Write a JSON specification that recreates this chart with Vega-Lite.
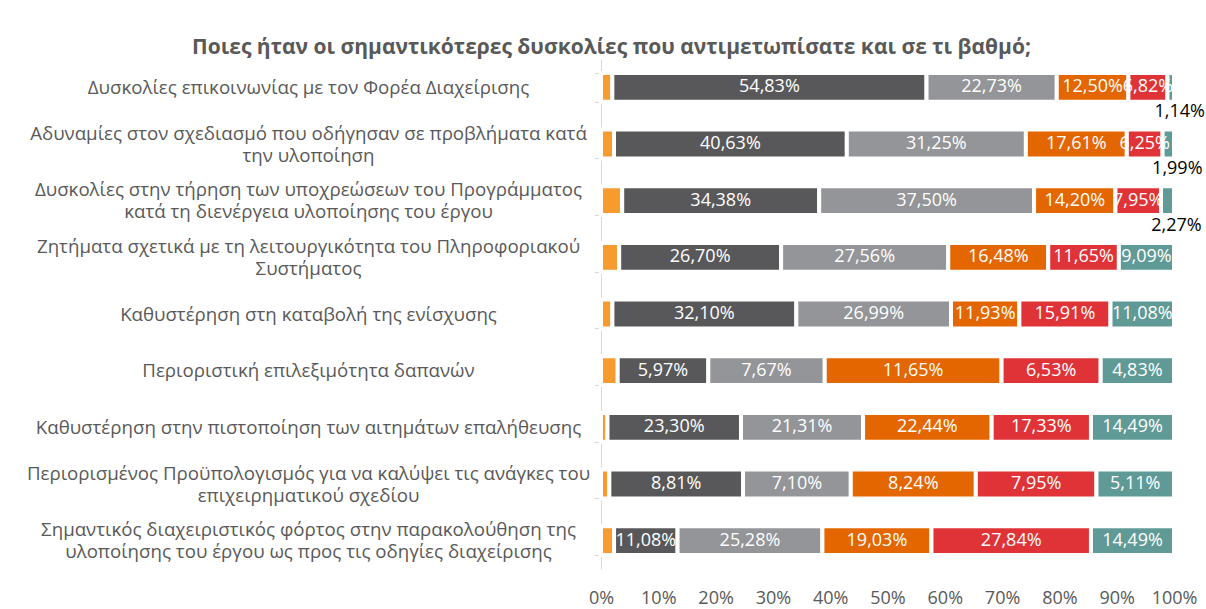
{
  "$schema": "https://vega.github.io/schema/vega-lite/v6.json",
  "autosize": "none",
  "width": 573,
  "height": 510,
  "padding": {"left": 601, "top": 59, "right": 32, "bottom": 40},
  "background": "white",
  "title": {
    "text": "Ποιες ήταν οι σημαντικότερες δυσκολίες που αντιμετωπίσατε και σε τι βαθμό;",
    "anchor": "middle",
    "frame": "group",
    "dx": -276,
    "dy": 14,
    "offset": 6,
    "font": "Open Sans",
    "fontSize": 21,
    "fontWeight": "bold",
    "color": "#595959"
  },
  "data": {
    "values": [
      {"item": "Δυσκολίες επικοινωνίας με τον Φορέα Διαχείρισης", "level": 0, "value": 0.0198},
      {"item": "Δυσκολίες επικοινωνίας με τον Φορέα Διαχείρισης", "level": 1, "value": 0.5483},
      {"item": "Δυσκολίες επικοινωνίας με τον Φορέα Διαχείρισης", "level": 2, "value": 0.2273},
      {"item": "Δυσκολίες επικοινωνίας με τον Φορέα Διαχείρισης", "level": 3, "value": 0.1250},
      {"item": "Δυσκολίες επικοινωνίας με τον Φορέα Διαχείρισης", "level": 4, "value": 0.0682},
      {"item": "Δυσκολίες επικοινωνίας με τον Φορέα Διαχείρισης", "level": 5, "value": 0.0114},

      {"item": "Αδυναμίες στον σχεδιασμό που οδήγησαν σε προβλήματα κατά\nτην υλοποίηση", "level": 0, "value": 0.0227},
      {"item": "Αδυναμίες στον σχεδιασμό που οδήγησαν σε προβλήματα κατά\nτην υλοποίηση", "level": 1, "value": 0.4063},
      {"item": "Αδυναμίες στον σχεδιασμό που οδήγησαν σε προβλήματα κατά\nτην υλοποίηση", "level": 2, "value": 0.3125},
      {"item": "Αδυναμίες στον σχεδιασμό που οδήγησαν σε προβλήματα κατά\nτην υλοποίηση", "level": 3, "value": 0.1761},
      {"item": "Αδυναμίες στον σχεδιασμό που οδήγησαν σε προβλήματα κατά\nτην υλοποίηση", "level": 4, "value": 0.0625},
      {"item": "Αδυναμίες στον σχεδιασμό που οδήγησαν σε προβλήματα κατά\nτην υλοποίηση", "level": 5, "value": 0.0199},

      {"item": "Δυσκολίες στην τήρηση των υποχρεώσεων του Προγράμματος\nκατά τη διενέργεια υλοποίησης του έργου", "level": 0, "value": 0.0370},
      {"item": "Δυσκολίες στην τήρηση των υποχρεώσεων του Προγράμματος\nκατά τη διενέργεια υλοποίησης του έργου", "level": 1, "value": 0.3438},
      {"item": "Δυσκολίες στην τήρηση των υποχρεώσεων του Προγράμματος\nκατά τη διενέργεια υλοποίησης του έργου", "level": 2, "value": 0.3750},
      {"item": "Δυσκολίες στην τήρηση των υποχρεώσεων του Προγράμματος\nκατά τη διενέργεια υλοποίησης του έργου", "level": 3, "value": 0.1420},
      {"item": "Δυσκολίες στην τήρηση των υποχρεώσεων του Προγράμματος\nκατά τη διενέργεια υλοποίησης του έργου", "level": 4, "value": 0.0795},
      {"item": "Δυσκολίες στην τήρηση των υποχρεώσεων του Προγράμματος\nκατά τη διενέργεια υλοποίησης του έργου", "level": 5, "value": 0.0227},

      {"item": "Ζητήματα σχετικά με τη λειτουργικότητα του Πληροφοριακού\nΣυστήματος", "level": 0, "value": 0.0300},
      {"item": "Ζητήματα σχετικά με τη λειτουργικότητα του Πληροφοριακού\nΣυστήματος", "level": 1, "value": 0.2670},
      {"item": "Ζητήματα σχετικά με τη λειτουργικότητα του Πληροφοριακού\nΣυστήματος", "level": 2, "value": 0.2756},
      {"item": "Ζητήματα σχετικά με τη λειτουργικότητα του Πληροφοριακού\nΣυστήματος", "level": 3, "value": 0.1648},
      {"item": "Ζητήματα σχετικά με τη λειτουργικότητα του Πληροφοριακού\nΣυστήματος", "level": 4, "value": 0.1165},
      {"item": "Ζητήματα σχετικά με τη λειτουργικότητα του Πληροφοριακού\nΣυστήματος", "level": 5, "value": 0.0909},

      {"item": "Καθυστέρηση στη καταβολή της ενίσχυσης", "level": 0, "value": 0.0199},
      {"item": "Καθυστέρηση στη καταβολή της ενίσχυσης", "level": 1, "value": 0.3210},
      {"item": "Καθυστέρηση στη καταβολή της ενίσχυσης", "level": 2, "value": 0.2699},
      {"item": "Καθυστέρηση στη καταβολή της ενίσχυσης", "level": 3, "value": 0.1193},
      {"item": "Καθυστέρηση στη καταβολή της ενίσχυσης", "level": 4, "value": 0.1591},
      {"item": "Καθυστέρηση στη καταβολή της ενίσχυσης", "level": 5, "value": 0.1108},

      {"item": "Περιοριστική επιλεξιμότητα δαπανών", "level": 0, "value": 0.0110},
      {"item": "Περιοριστική επιλεξιμότητα δαπανών", "level": 1, "value": 0.0597},
      {"item": "Περιοριστική επιλεξιμότητα δαπανών", "level": 2, "value": 0.0767},
      {"item": "Περιοριστική επιλεξιμότητα δαπανών", "level": 3, "value": 0.1165},
      {"item": "Περιοριστική επιλεξιμότητα δαπανών", "level": 4, "value": 0.0653},
      {"item": "Περιοριστική επιλεξιμότητα δαπανών", "level": 5, "value": 0.0483},

      {"item": "Καθυστέρηση στην πιστοποίηση των αιτημάτων επαλήθευσης", "level": 0, "value": 0.0113},
      {"item": "Καθυστέρηση στην πιστοποίηση των αιτημάτων επαλήθευσης", "level": 1, "value": 0.2330},
      {"item": "Καθυστέρηση στην πιστοποίηση των αιτημάτων επαλήθευσης", "level": 2, "value": 0.2131},
      {"item": "Καθυστέρηση στην πιστοποίηση των αιτημάτων επαλήθευσης", "level": 3, "value": 0.2244},
      {"item": "Καθυστέρηση στην πιστοποίηση των αιτημάτων επαλήθευσης", "level": 4, "value": 0.1733},
      {"item": "Καθυστέρηση στην πιστοποίηση των αιτημάτων επαλήθευσης", "level": 5, "value": 0.1449},

      {"item": "Περιορισμένος Προϋπολογισμός για να καλύψει τις ανάγκες του\nεπιχειρηματικού σχεδίου", "level": 0, "value": 0.0055},
      {"item": "Περιορισμένος Προϋπολογισμός για να καλύψει τις ανάγκες του\nεπιχειρηματικού σχεδίου", "level": 1, "value": 0.0881},
      {"item": "Περιορισμένος Προϋπολογισμός για να καλύψει τις ανάγκες του\nεπιχειρηματικού σχεδίου", "level": 2, "value": 0.0710},
      {"item": "Περιορισμένος Προϋπολογισμός για να καλύψει τις ανάγκες του\nεπιχειρηματικού σχεδίου", "level": 3, "value": 0.0824},
      {"item": "Περιορισμένος Προϋπολογισμός για να καλύψει τις ανάγκες του\nεπιχειρηματικού σχεδίου", "level": 4, "value": 0.0795},
      {"item": "Περιορισμένος Προϋπολογισμός για να καλύψει τις ανάγκες του\nεπιχειρηματικού σχεδίου", "level": 5, "value": 0.0511},

      {"item": "Σημαντικός διαχειριστικός φόρτος στην παρακολούθηση της\nυλοποίησης του έργου ως προς τις οδηγίες διαχείρισης", "level": 0, "value": 0.0228},
      {"item": "Σημαντικός διαχειριστικός φόρτος στην παρακολούθηση της\nυλοποίησης του έργου ως προς τις οδηγίες διαχείρισης", "level": 1, "value": 0.1108},
      {"item": "Σημαντικός διαχειριστικός φόρτος στην παρακολούθηση της\nυλοποίησης του έργου ως προς τις οδηγίες διαχείρισης", "level": 2, "value": 0.2528},
      {"item": "Σημαντικός διαχειριστικός φόρτος στην παρακολούθηση της\nυλοποίησης του έργου ως προς τις οδηγίες διαχείρισης", "level": 3, "value": 0.1903},
      {"item": "Σημαντικός διαχειριστικός φόρτος στην παρακολούθηση της\nυλοποίησης του έργου ως προς τις οδηγίες διαχείρισης", "level": 4, "value": 0.2784},
      {"item": "Σημαντικός διαχειριστικός φόρτος στην παρακολούθηση της\nυλοποίησης του έργου ως προς τις οδηγίες διαχείρισης", "level": 5, "value": 0.1449}
    ]
  },
  "encoding": {
    "y": {
      "field": "item",
      "type": "nominal",
      "sort": null,
      "scale": {"paddingInner": 0.49, "paddingOuter": 0.245},
      "axis": {
        "title": null,
        "tickBand": "extent",
        "domainColor": "#D9D9D9",
        "tickColor": "#D9D9D9",
        "tickSize": 7,
        "labelPadding": 286,
        "labelLimit": 0,
        "labelFont": "Open Sans",
        "labelFontSize": 18.7,
        "labelColor": "#595959",
        "labelAlign": "center",
        "labelBaseline": "middle",
        "labelLineHeight": 11,
        "labelOffset": -22,
        "labelExpr": "indexof(datum.label, '\\n') < 0 ? ['\u200b', '\u200b', pad('', indexof(datum.label, 'Δυσκολίες επικοινωνίας') == 0 ? 13 : indexof(datum.label, 'Καθυστέρηση στη καταβολή') == 0 ? 20 : indexof(datum.label, 'Περιοριστική') == 0 ? 25 : indexof(datum.label, 'Καθυστέρηση στην') == 0 ? 2 : 0, '\u2002') + datum.label] : ['\u200b', pad('', indexof(datum.label, 'Αδυναμίες') == 0 ? 1 : indexof(datum.label, 'Δυσκολίες στην') == 0 ? 1 : indexof(datum.label, 'Ζητήματα') == 0 ? 2 : indexof(datum.label, 'Σημαντικός') == 0 ? 3 : 0, '\u2002') + split(datum.label, '\\n')[0], '\u200b', pad('', indexof(datum.label, 'Αδυναμίες') == 0 ? 1 : indexof(datum.label, 'Δυσκολίες στην') == 0 ? 1 : indexof(datum.label, 'Ζητήματα') == 0 ? 2 : indexof(datum.label, 'Σημαντικός') == 0 ? 3 : 0, '\u2002') + split(datum.label, '\\n')[1]]"
      }
    },
    "order": {"field": "level", "type": "quantitative"}
  },
  "layer": [
    {
      "mark": {"type": "bar", "stroke": "white", "strokeWidth": 4},
      "encoding": {
        "x": {
          "field": "value",
          "type": "quantitative",
          "stack": "normalize",
          "scale": {"domain": [0, 1]},
          "axis": {
            "title": null,
            "format": ".0%",
            "values": [0, 0.1, 0.2, 0.3, 0.4, 0.5, 0.6, 0.7, 0.8, 0.9, 1],
            "grid": false,
            "domain": false,
            "ticks": false,
            "labelOverlap": false,
            "labelFlush": false,
            "labelPadding": 20,
            "labelFont": "Open Sans",
            "labelFontSize": 18,
            "labelColor": "#595959"
          }
        },
        "color": {
          "field": "level",
          "type": "nominal",
          "legend": null,
          "scale": {
            "domain": [0, 1, 2, 3, 4, 5],
            "range": ["#F79B2E", "#58585A", "#939598", "#E46600", "#DF3337", "#5F9A96"]
          }
        }
      }
    },
    {
      "mark": {"type": "text", "color": "white", "font": "Open Sans", "fontSize": 18, "baseline": "middle"},
      "encoding": {
        "x": {"field": "value", "type": "quantitative", "stack": "normalize", "bandPosition": 0.5},
        "text": {
          "condition": {"test": "datum.level == 0 || (datum.level == 5 && datum.value < 0.025)", "value": ""},
          "field": "value",
          "type": "quantitative",
          "format": ".2%"
        }
      }
    },
    {
      "mark": {"type": "text", "color": "#000000", "font": "Open Sans", "fontSize": 18, "baseline": "middle", "dx": 9, "dy": 25},
      "encoding": {
        "x": {"field": "value", "type": "quantitative", "stack": "normalize", "bandPosition": 0.5},
        "text": {
          "condition": {"test": "!(datum.level == 5 && datum.value < 0.025)", "value": ""},
          "field": "value",
          "type": "quantitative",
          "format": ".2%"
        }
      }
    }
  ],
  "config": {
    "view": {"stroke": null},
    "locale": {
      "number": {"decimal": ",", "thousands": ".", "grouping": [3], "currency": ["", " €"]}
    }
  }
}
